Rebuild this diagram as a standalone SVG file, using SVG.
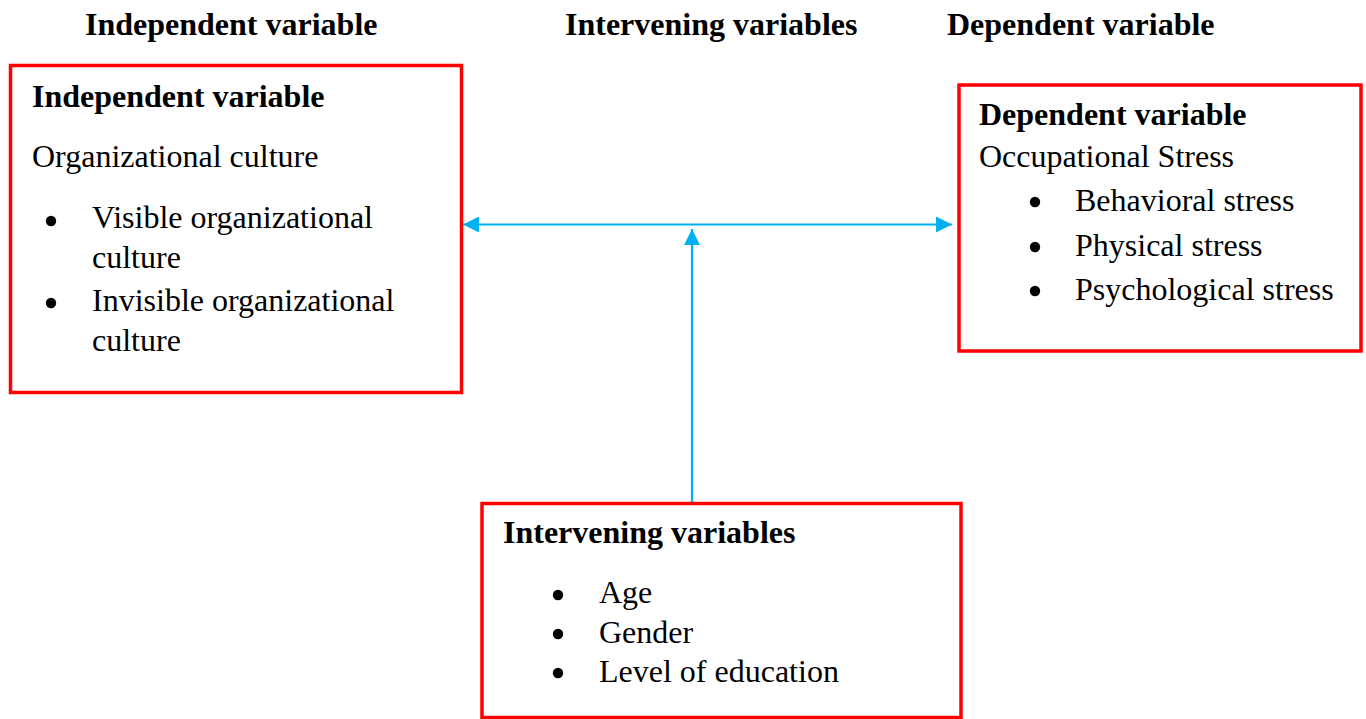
<svg xmlns="http://www.w3.org/2000/svg" width="1366" height="719" viewBox="0 0 1366 719">
  <style>
    text { font-family: "Liberation Serif", "Times New Roman", serif; font-size: 32px; fill: #000; }
    .b { font-weight: bold; }
    .box { fill: #fff; stroke: #ff0000; stroke-width: 3.5; }
    .conn { stroke: #00b0f0; stroke-width: 2.2; fill: none; }
    .dot { fill: #000; }
  </style>
  <defs>
    <marker id="ah" markerUnits="userSpaceOnUse" markerWidth="16" markerHeight="16" refX="16" refY="8" orient="auto-start-reverse" viewBox="0 0 16 16">
      <path d="M0,0 L16,8 L0,16 Z" fill="#00b0f0"/>
    </marker>
  </defs>
  <rect width="1366" height="719" fill="#fff"/>

  <g id="headers">
    <text class="b" x="85" y="35">Independent variable</text>
    <text class="b" x="565" y="35">Intervening variables</text>
    <text class="b" x="947" y="35">Dependent variable</text>
  </g>

  <g id="connectors">
    <line class="conn" x1="463" y1="224.5" x2="952" y2="224.5" marker-start="url(#ah)" marker-end="url(#ah)"/>
    <line class="conn" x1="692" y1="503" x2="692" y2="229" marker-end="url(#ah)"/>
  </g>

  <g id="independent">
    <rect class="box" x="10.5" y="65.5" width="451" height="327"/>
    <text class="b" x="32" y="107">Independent variable</text>
    <text x="32" y="167">Organizational culture</text>
    <circle class="dot" cx="51" cy="221" r="5.2"/>
    <text x="92" y="228">Visible organizational</text>
    <text x="92" y="268">culture</text>
    <circle class="dot" cx="51" cy="303" r="5.2"/>
    <text x="92" y="311">Invisible organizational</text>
    <text x="92" y="351">culture</text>
  </g>

  <g id="dependent">
    <rect class="box" x="959" y="85" width="402" height="266"/>
    <text class="b" x="979" y="125">Dependent variable</text>
    <text x="979" y="167">Occupational Stress</text>
    <circle class="dot" cx="1035" cy="202" r="5.2"/>
    <text x="1075" y="211">Behavioral stress</text>
    <circle class="dot" cx="1035" cy="247" r="5.2"/>
    <text x="1075" y="256">Physical stress</text>
    <circle class="dot" cx="1035" cy="291" r="5.2"/>
    <text x="1075" y="300">Psychological stress</text>
  </g>

  <g id="intervening">
    <rect class="box" x="482" y="503.5" width="479" height="214"/>
    <text class="b" x="503" y="543">Intervening variables</text>
    <circle class="dot" cx="558" cy="595" r="5.2"/>
    <text x="599" y="603">Age</text>
    <circle class="dot" cx="558" cy="634" r="5.2"/>
    <text x="599" y="643">Gender</text>
    <circle class="dot" cx="558" cy="673" r="5.2"/>
    <text x="599" y="682">Level of education</text>
  </g>
</svg>
